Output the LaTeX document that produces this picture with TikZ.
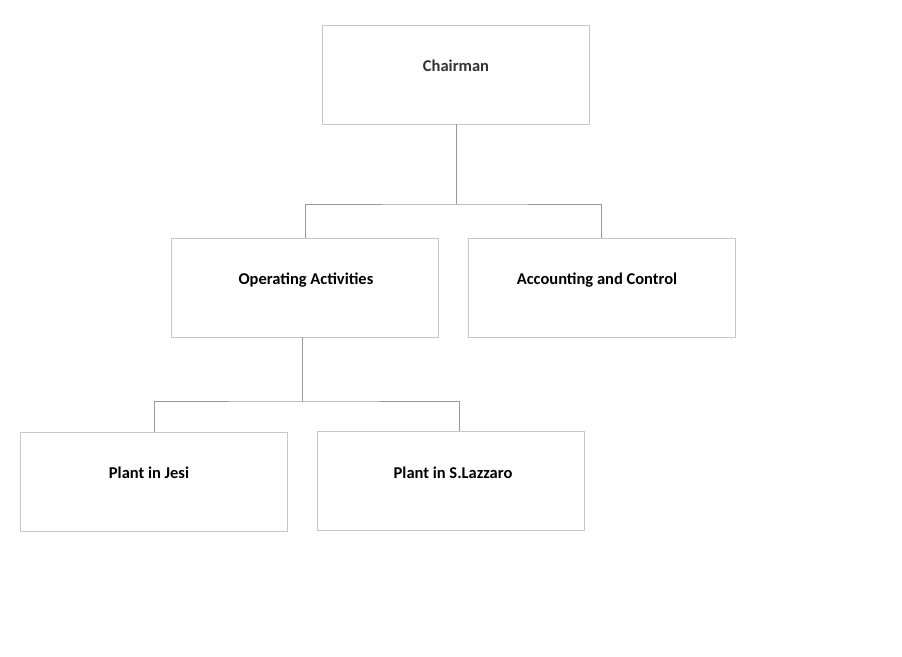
\documentclass[tikz,border=0pt]{standalone}
\usepackage{fontspec}
\setmainfont{Carlito}
\begin{document}
\begin{tikzpicture}[x=1pt,y=-1pt,
  box/.style={draw=black!22,line width=0.8pt,fill=white,minimum width=267pt,minimum height=99pt,inner sep=0pt},
  lbl/.style={font=\fontsize{16.5}{18}\selectfont\bfseries,text=#1},
  lbl/.default=black,
  conn/.style={draw=black!40,line width=0.8pt}]
\useasboundingbox (0,0) rectangle (902,656);
\node[box] (ch) at (455.5,74.5) {};
\node[box] (op) at (304.5,287.5) {};
\node[box] (ac) at (601.5,287.5) {};
\node[box] (je) at (153.5,481.5) {};
\node[box] (sl) at (450.5,480.5) {};
\node[lbl=black!80] (tch) at (456,66) {Chairman};
\node[lbl] (top) at (306,280) {Operating Activities};
\node[lbl] (tac) at (597,280) {Accounting and Control};
\node[lbl] (tje) at (149,473) {Plant in Jesi};
\node[lbl] (tsl) at (453,473) {Plant in S.Lazzaro};
\coordinate (j1) at (456,204);
\coordinate (j2) at (302,401);
\draw[conn] (ch.south -| j1) -- (j1);
\draw[conn] (op.north -| 305,0) |- (j1) -| (ac.north -| 601,0);
\draw[conn] (op.south -| j2) -- (j2);
\draw[conn] (je.north -| 154,0) |- (j2) -| (sl.north -| 459,0);
\end{tikzpicture}
\end{document}
